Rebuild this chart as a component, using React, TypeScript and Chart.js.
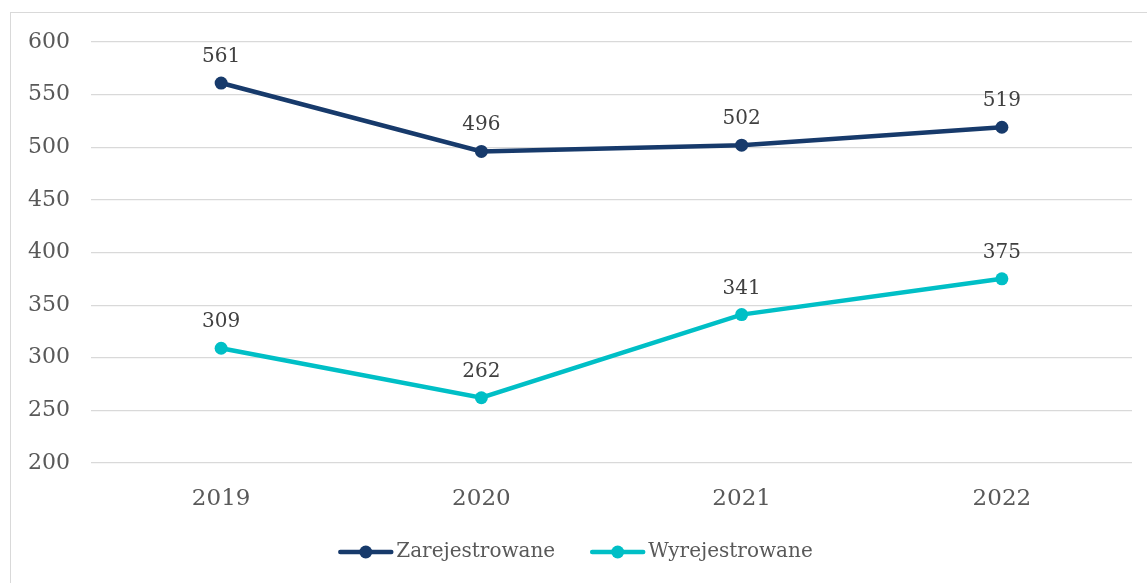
import React, { useEffect, useRef } from "react";
import { Chart, registerables } from "chart.js";

Chart.register(...registerables);

const years = ["2019", "2020", "2021", "2022"];
const zarejestrowane = [561, 496, 502, 519];
const wyrejestrowane = [309, 262, 341, 375];
const seriesNames = ["Zarejestrowane", "Wyrejestrowane"];
const seriesColors = ["#173A6B", "#00BFC6"];
const yMin = 200;
const yMax = 600;
const yStep = 50;

const FONT = "'DejaVu Serif', Georgia, serif";

const dataLabelPlugin = {
  id: "dataLabels",
  afterDatasetsDraw(chart: any) {
    const ctx = chart.ctx;
    ctx.save();
    ctx.font = `20px ${FONT}`;
    ctx.fillStyle = "#404040";
    ctx.textAlign = "center";
    ctx.textBaseline = "alphabetic";
    chart.data.datasets.forEach((ds: any, i: number) => {
      const meta = chart.getDatasetMeta(i);
      meta.data.forEach((el: any, j: number) => {
        ctx.fillText(String(ds.data[j]), el.x, el.y - 21);
      });
    });
    ctx.restore();
  },
};

const legendPlugin = {
  id: "customLegend",
  afterDraw(chart: any) {
    const ctx = chart.ctx;
    ctx.save();
    ctx.font = `20px ${FONT}`;
    const lineW = 55;
    const gapText = 3;
    const gapItems = 35;
    const items = chart.data.datasets.map((ds: any) => ({
      label: ds.label,
      color: ds.borderColor,
      w: lineW + gapText + ctx.measureText(ds.label).width,
    }));
    const total = items.reduce((a: number, b: any) => a + b.w, 0) + gapItems * (items.length - 1);
    let x = chart.width / 2 + 2 - total / 2;
    const y = 552;
    items.forEach((it: any) => {
      ctx.strokeStyle = it.color;
      ctx.lineWidth = 4.5;
      ctx.lineCap = "round";
      ctx.beginPath();
      ctx.moveTo(x + 2, y);
      ctx.lineTo(x + lineW - 2, y);
      ctx.stroke();
      ctx.fillStyle = it.color;
      ctx.beginPath();
      ctx.arc(x + lineW / 2, y, 6.5, 0, Math.PI * 2);
      ctx.fill();
      ctx.fillStyle = "#595959";
      ctx.textAlign = "left";
      ctx.textBaseline = "middle";
      ctx.fillText(it.label, x + lineW + gapText, y);
      x += it.w + gapItems;
    });
    ctx.restore();
  },
};

export default function App() {
  const ref = useRef<HTMLCanvasElement | null>(null);

  useEffect(() => {
    if (!ref.current) return;
    const chart = new Chart(ref.current, {
      type: "line",
      data: {
        labels: years,
        datasets: [
          {
            label: seriesNames[0],
            data: zarejestrowane,
            borderColor: seriesColors[0],
            backgroundColor: seriesColors[0],
            borderWidth: 4.5,
            pointRadius: 6.5,
            pointHoverRadius: 6.5,
            pointBorderWidth: 0,
            tension: 0,
          },
          {
            label: seriesNames[1],
            data: wyrejestrowane,
            borderColor: seriesColors[1],
            backgroundColor: seriesColors[1],
            borderWidth: 4.5,
            pointRadius: 6.5,
            pointHoverRadius: 6.5,
            pointBorderWidth: 0,
            tension: 0,
          },
        ],
      },
      options: {
        responsive: false,
        animation: false,
        layout: { padding: { top: 42, right: 15, left: 0, bottom: 0 } },
        plugins: {
          legend: { display: false },
          tooltip: { enabled: false },
        },
        scales: {
          x: {
            offset: true,
            grid: { display: false, drawTicks: false },
            border: { display: false },
            ticks: {
              padding: 22,
              color: "#595959",
              font: { family: FONT, size: 23 },
            },
            afterFit(scale: any) {
              scale.height = 120;
            },
          },
          y: {
            min: yMin,
            max: yMax,
            grid: { color: "#D9D9D9", lineWidth: 1.2, drawTicks: false },
            border: { display: false },
            ticks: {
              stepSize: yStep,
              padding: 21,
              color: "#595959",
              font: { family: FONT, size: 22 },
            },
            afterFit(scale: any) {
              scale.width = 91;
            },
          },
        },
      },
      plugins: [dataLabelPlugin, legendPlugin],
    });
    return () => chart.destroy();
  }, []);

  return (
    <div style={{ position: "fixed", left: 0, top: 0, width: 1147, height: 583, overflow: "hidden", background: "#fff" }}>
      <div
        style={{
          position: "absolute",
          left: 10,
          top: 12,
          width: 1170,
          height: 610,
          border: "1px solid #D9D9D9",
          boxSizing: "border-box",
        }}
      />
      <canvas
        ref={ref}
        width={1147}
        height={583}
        style={{ position: "absolute", left: 0, top: 0, width: 1147, height: 583 }}
      />
    </div>
  );
}
